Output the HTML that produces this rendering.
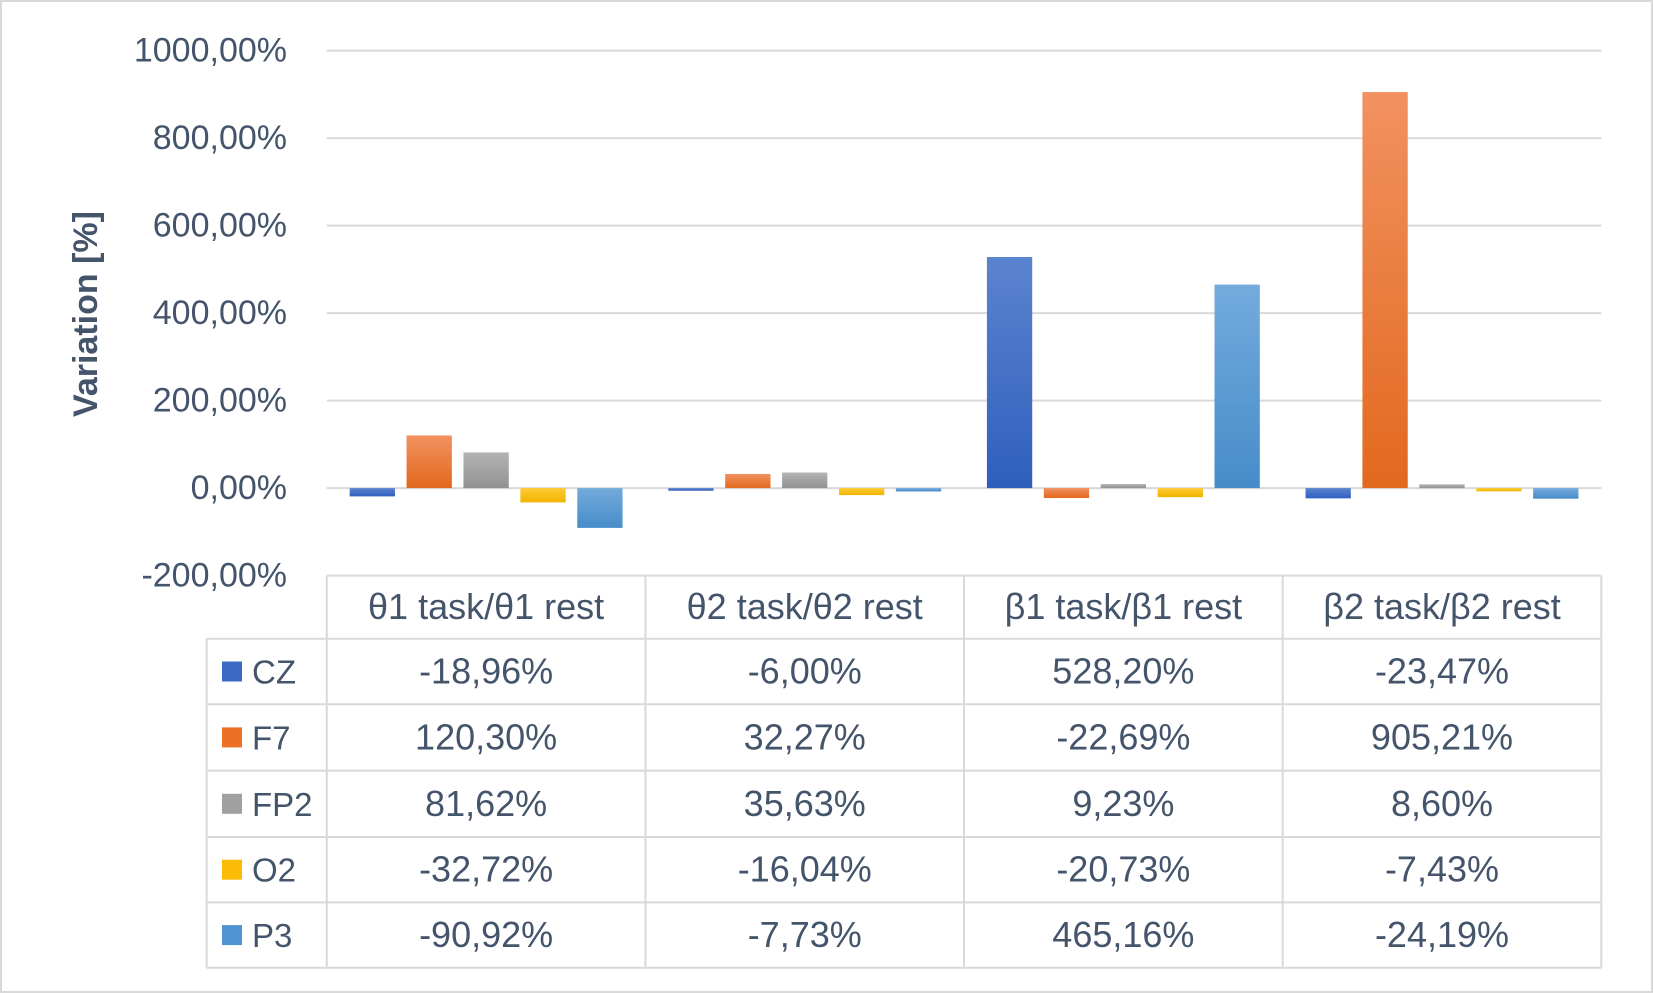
<!DOCTYPE html>
<html><head><meta charset="utf-8"><style>
body{margin:0;background:#fff;}
svg{display:block;font-family:"Liberation Sans","Noto Sans CJK SC",sans-serif;}
</style></head><body>
<svg id="chart" width="1653" height="993">
<defs>
<linearGradient id="g0" x1="0" y1="0" x2="0" y2="1"><stop offset="0" stop-color="#5b84cf"/><stop offset="1" stop-color="#2f5fbd"/></linearGradient>
<linearGradient id="g1" x1="0" y1="0" x2="0" y2="1"><stop offset="0" stop-color="#f29160"/><stop offset="1" stop-color="#e2691e"/></linearGradient>
<linearGradient id="g2" x1="0" y1="0" x2="0" y2="1"><stop offset="0" stop-color="#b3b3b3"/><stop offset="1" stop-color="#929292"/></linearGradient>
<linearGradient id="g3" x1="0" y1="0" x2="0" y2="1"><stop offset="0" stop-color="#ffcb33"/><stop offset="1" stop-color="#f0b400"/></linearGradient>
<linearGradient id="g4" x1="0" y1="0" x2="0" y2="1"><stop offset="0" stop-color="#74abdd"/><stop offset="1" stop-color="#468cc9"/></linearGradient>
</defs>
<rect x="1" y="1" width="1651" height="991" fill="#fff" stroke="#d9d9d9" stroke-width="2"/>
</svg>
<script>
const categories=["θ1 task/θ1 rest","θ2 task/θ2 rest","β1 task/β1 rest","β2 task/β2 rest"];
const seriesNames=["CZ","F7","FP2","O2","P3"];
const CZ=[-18.96,-6.00,528.20,-23.47];
const F7=[120.30,32.27,-22.69,905.21];
const FP2=[81.62,35.63,9.23,8.60];
const O2=[-32.72,-16.04,-20.73,-7.43];
const P3=[-90.92,-7.73,465.16,-24.19];
const ticks=[-200,0,200,400,600,800,1000];
const series=[CZ,F7,FP2,O2,P3];
const svg=document.getElementById('chart');
const NS='http://www.w3.org/2000/svg';
const X0=326.8,X1=1601.3,YMAX=1000,YMIN=-200,YT=50.6,YB=575.6;
const y=v=>YB-(v-YMIN)/(YMAX-YMIN)*(YB-YT);
const gw=(X1-X0)/categories.length;
const xc=i=>X0+gw*(i+0.5);
const txt="#44546a";
function el(t,a,parent){const e=document.createElementNS(NS,t);for(const k in a)e.setAttribute(k,a[k]);(parent||svg).appendChild(e);return e;}
const fmt=v=>v.toFixed(2).replace('.',',')+'%';
ticks.forEach(t=>{
  if(t>YMIN){const l=el('line',{x1:X0,x2:X1,y1:y(t),y2:y(t),stroke:'#d9d9d9','stroke-width':2});
  
  }
  const tx=el('text',{x:287,y:y(t)+11,'text-anchor':'end','font-size':34,fill:txt});
  tx.textContent=fmt(t);
  
  
});
const yt=el('text',{x:0,y:0,'text-anchor':'middle','font-size':34,'font-weight':'bold',fill:txt,transform:'translate(97,314) rotate(-90)'});
yt.textContent='Variation [%]';


const bw=45.3,sp=56.9;
series.forEach((s,j)=>{s.forEach((v,i)=>{
  const cx=xc(i)+(j-2)*sp;
  const r=el('rect',{x:cx-bw/2,y:Math.min(y(v),y(0)),width:bw,height:Math.abs(y(v)-y(0)),fill:'url(#g'+j+')'});
  
  
});});
const rows=[575.6,638.8,704.2,770.6,837,902.4,967.8];
const LX=206.6;
const tc='#d9d9d9';
el('line',{x1:X0,x2:X1,y1:rows[0],y2:rows[0],stroke:tc,'stroke-width':2});
for(let r=1;r<rows.length;r++)el('line',{x1:LX,x2:X1,y1:rows[r],y2:rows[r],stroke:tc,'stroke-width':2});
el('line',{x1:LX,x2:LX,y1:rows[1],y2:rows[6],stroke:tc,'stroke-width':2});
for(let i=0;i<=categories.length;i++)el('line',{x1:X0+gw*i,x2:X0+gw*i,y1:rows[0],y2:rows[6],stroke:tc,'stroke-width':2});
categories.forEach((c,i)=>{
  const t=el('text',{x:xc(i),y:(rows[0]+rows[1])/2+12,'text-anchor':'middle','font-size':36,fill:txt});
  t.textContent=c;
  
  
});
const cols=['#3a68c2','#ec7125','#a0a0a0','#fcbc06','#4f95d3'];
series.forEach((s,j)=>{
  const cy=(rows[j+1]+rows[j+2])/2;
  const k=el('rect',{x:222,y:cy-10,width:20,height:20,fill:cols[j]});
  
  
  const n=el('text',{x:252,y:cy+12,'font-size':33,fill:txt});
  n.textContent=seriesNames[j];
  
  
  s.forEach((v,i)=>{
    const t=el('text',{x:xc(i),y:cy+12,'text-anchor':'middle','font-size':36,fill:txt});
    t.textContent=fmt(v);
    
    
  });
});
</script>
</body></html>
